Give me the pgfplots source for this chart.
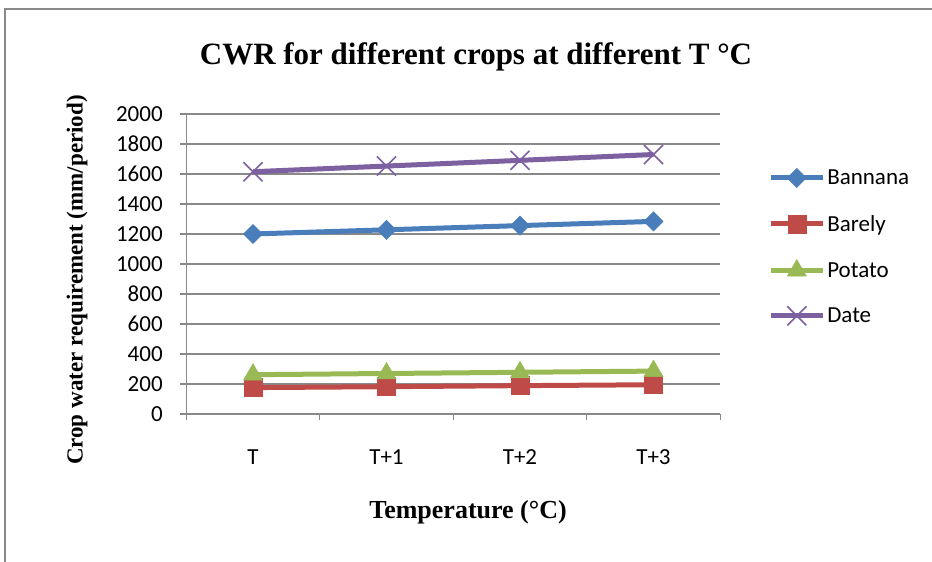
\documentclass[border=0pt]{standalone}
\usepackage{fontspec}
\setmainfont{Liberation Serif}
\newfontfamily\calibri{Carlito}
\usepackage{pgfplots}
\pgfplotsset{compat=1.18}
\definecolor{cBan}{HTML}{4A7EBB}
\definecolor{cBar}{HTML}{BE4B48}
\definecolor{cPot}{HTML}{98B954}
\definecolor{cDat}{HTML}{7D60A0}
\definecolor{gridc}{HTML}{898989}
\begin{document}
\begin{tikzpicture}[x=1pt,y=1pt]
\useasboundingbox (0,0) rectangle (932,562);
\draw[gridc, line width=1.2pt] (5,0) -- (5,553) -- (932,553);
\begin{axis}[at={(253pt,148pt)}, anchor=origin,
  scale only axis, width=534pt, height=300pt,
  xmin=-0.5, xmax=3.5, ymin=0, ymax=2000,
  axis lines*=left,
  axis line style={gridc, line width=1.3pt},
  ymajorgrids, grid style={gridc, line width=1.3pt},
  ytick={0,200,...,2000},
  xtick={-0.5,0.5,1.5,2.5,3.5},
  xticklabels={T,T+1,T+2,T+3},
  x tick label as interval,
  tick align=outside, major tick length=6pt,
  tick style={gridc, line width=1.3pt},
  ticklabel style={font=\calibri\fontsize{23}{27}\selectfont},
  /pgf/number format/assume math mode=true,
  /pgf/number format/1000 sep={},
  yticklabel style={xshift=-14pt},
  xticklabel style={yshift=-26pt},
  legend style={at={(axis description cs:1.084,0.557)}, anchor=west,
    draw=none, fill=none, font=\calibri\fontsize{23}{27}\selectfont,
    row sep=25pt, nodes={inner sep=2pt}},
  legend cell align=left,
  legend image code/.code={\draw[mark repeat=2, mark phase=2, #1] plot coordinates {(0pt,0pt) (26pt,0pt) (52pt,0pt)};},
]
\addplot[cBan, line width=5pt, mark=square*, mark size=6.8pt, mark options={rotate=45, solid, line width=0.5pt}]
  coordinates {(0,1200) (1,1228) (2,1256) (3,1284)};
\addlegendentry{Bannana}
\addplot[cBar, line width=5pt, mark=square*, mark size=9pt, mark options={solid, line width=0.5pt}]
  coordinates {(0,176) (1,182) (2,189) (3,195)};
\addlegendentry{Barely}
\addplot[cPot, line width=5pt, mark=triangle*, mark size=11pt, mark options={solid, line width=0.5pt}]
  coordinates {(0,262) (1,270) (2,278) (3,286)};
\addlegendentry{Potato}
\addplot[cDat, line width=5pt, mark=x, mark size=13.5pt, mark options={solid, line width=1.6pt}]
  coordinates {(0,1615) (1,1653) (2,1691) (3,1730)};
\addlegendentry{Date}
\end{axis}
\node[font=\bfseries\fontsize{31}{37}\selectfont] at (476,505) {CWR for different crops at different T °C};
\node[font=\bfseries\fontsize{23}{28}\selectfont, rotate=90] at (77,282) {Crop water requirement (mm/period)};
\node[font=\bfseries\fontsize{26}{31}\selectfont] at (468,50) {Temperature (°C)};
\end{tikzpicture}
\end{document}
